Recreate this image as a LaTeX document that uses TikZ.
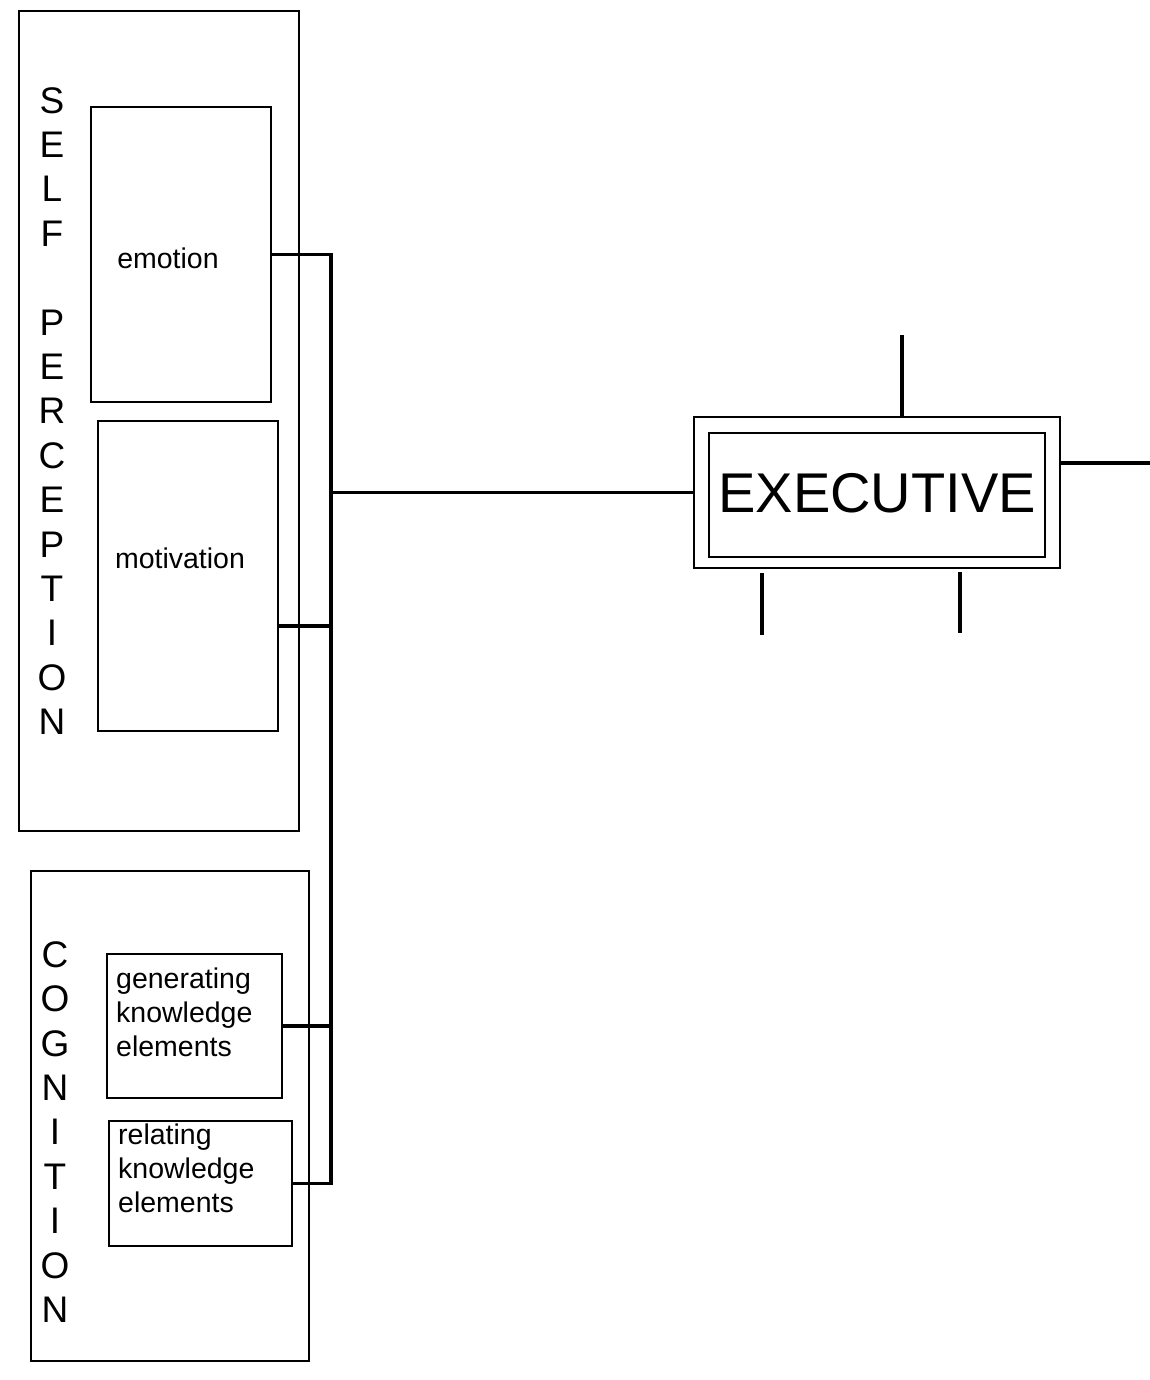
\documentclass[tikz,border=0pt]{standalone}
\usepackage{fontspec}
\setmainfont{Liberation Sans}
\begin{document}
\begin{tikzpicture}[x=1pt,y=-1pt,
  frame/.style={draw, line width=1.8pt, inner sep=0pt, anchor=north west},
  wire/.style={line width=3.6pt},
  mainwire/.style={line width=3pt},
  small/.style={font=\fontsize{28.5}{34}\selectfont, inner sep=0pt},
  vert/.style={font=\fontsize{37}{44.4}\selectfont, align=center, inner sep=0pt},
  big/.style={font=\fontsize{56}{60}\selectfont, inner sep=0pt}
]
\useasboundingbox (0,0) rectangle (1150,1380);
% SELF PERCEPTION group
\node[frame, minimum width=280pt, minimum height=820pt] (sp) at (18,10) {};
\node[frame, minimum width=180pt, minimum height=295pt] (emo) at (90,106) {};
\node[frame, minimum width=180pt, minimum height=310pt] (mot) at (97,420) {};
\node[small] (emotxt) at (168,258) {emotion};
\node[small] (mottxt) at (180,558) {motivation};
\node[vert] (sptxt) at (52,411) {S\\E\\L\\F\\~\\P\\E\\R\\C\\E\\P\\T\\I\\O\\N};
% COGNITION group
\node[frame, minimum width=278pt, minimum height=490pt] (cog) at (30,870) {};
\node[frame, minimum width=175pt, minimum height=144pt] (gen) at (106,953) {};
\node[frame, minimum width=183pt, minimum height=125pt] (rel) at (108,1120) {};
\node[small, anchor=north west, align=left] (gentxt) at (116,968) {generating\\knowledge\\elements};
\node[small, anchor=north west, align=left] (reltxt) at (118,1124) {relating\\knowledge\\elements};
\node[vert] (cogtxt) at (55,1132) {C\\O\\G\\N\\I\\T\\I\\O\\N};
% EXECUTIVE
\node[frame, minimum width=366pt, minimum height=151pt] (exo) at (693,416) {};
\node[frame, minimum width=336pt, minimum height=124pt] (exi) at (708,432) {};
\node[big] (exectxt) at (877,493) {EXECUTIVE};
% bus
\coordinate (bus) at (331,0);
\draw[wire] (emo.east) -- (emo.east -| bus) -- (rel.east -| bus) -- (rel.east);
\draw[wire] ([yshift=-50pt]mot.east) -- ([yshift=-50pt]mot.east -| bus);
\draw[wire] (gen.east) -- (gen.east -| bus);
\draw[mainwire] (bus |- exo.west) -- (exo.west);
% executive stubs
\coordinate (topend) at (902,335);
\draw[wire] (topend) -- (topend |- exo.north);
\coordinate (rightend) at (1150,463);
\draw[wire] (exo.east |- rightend) -- (rightend);
\coordinate (bla) at (762,573);
\coordinate (blb) at (762,635);
\coordinate (bra) at (960,572);
\coordinate (brb) at (960,633);
\draw[wire] (bla) -- (blb);
\draw[wire] (bra) -- (brb);
\end{tikzpicture}
\end{document}
